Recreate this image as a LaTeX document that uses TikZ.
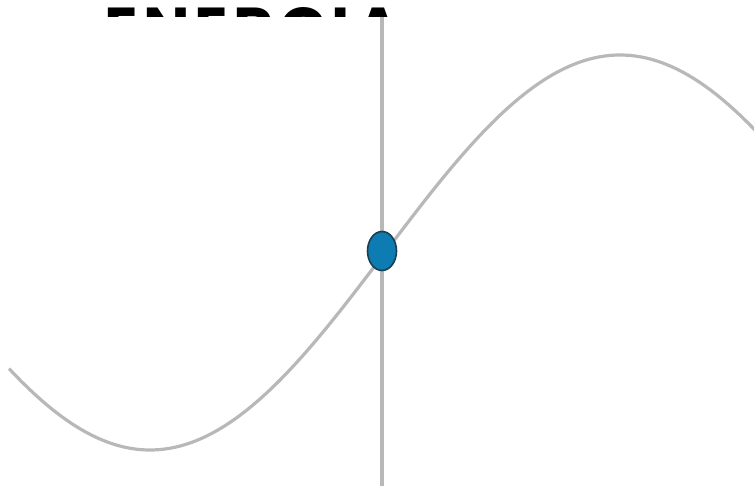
\documentclass[tikz,border=0pt]{standalone}
\usepackage{fontspec}
\newfontfamily\titlefont[LetterSpace=8.5]{Poppins}
\usetikzlibrary{shapes.geometric}
\definecolor{ballblue}{RGB}{12,124,178}
\definecolor{balledge}{RGB}{28,62,80}
\begin{document}
\begin{tikzpicture}[x=1pt, y=-1pt,
  axisline/.style={draw=black!28, line width=3.2pt},
  wave/.style={draw=black!28, line width=3.2pt, smooth},
  ballnode/.style={ellipse, draw=balledge, fill=ballblue, line width=1.6pt,
    minimum width=29pt, minimum height=39pt, inner sep=0pt}]

\useasboundingbox (0,0) rectangle (754,486);

% axis
\coordinate (axtop) at (382,17);
\coordinate (axbot) at (382,490);
\draw[axisline] (axtop) -- (axbot);

% wave
\draw[wave] plot[domain=9:760, samples=120] (\x,{252.5-197.5*sin((\x-385)/470*180)});

% ball on the wave
\node[ballnode] (ball) at (382,251) {};

% title, only its top strip shows
\begin{scope}
\clip (0,0) rectangle (754,17);
\node[anchor=base west, inner sep=0pt, font=\titlefont\bfseries\fontsize{62}{62}\selectfont] (title) at (104,52) {ENERGIA};
\end{scope}
\end{tikzpicture}
\end{document}
